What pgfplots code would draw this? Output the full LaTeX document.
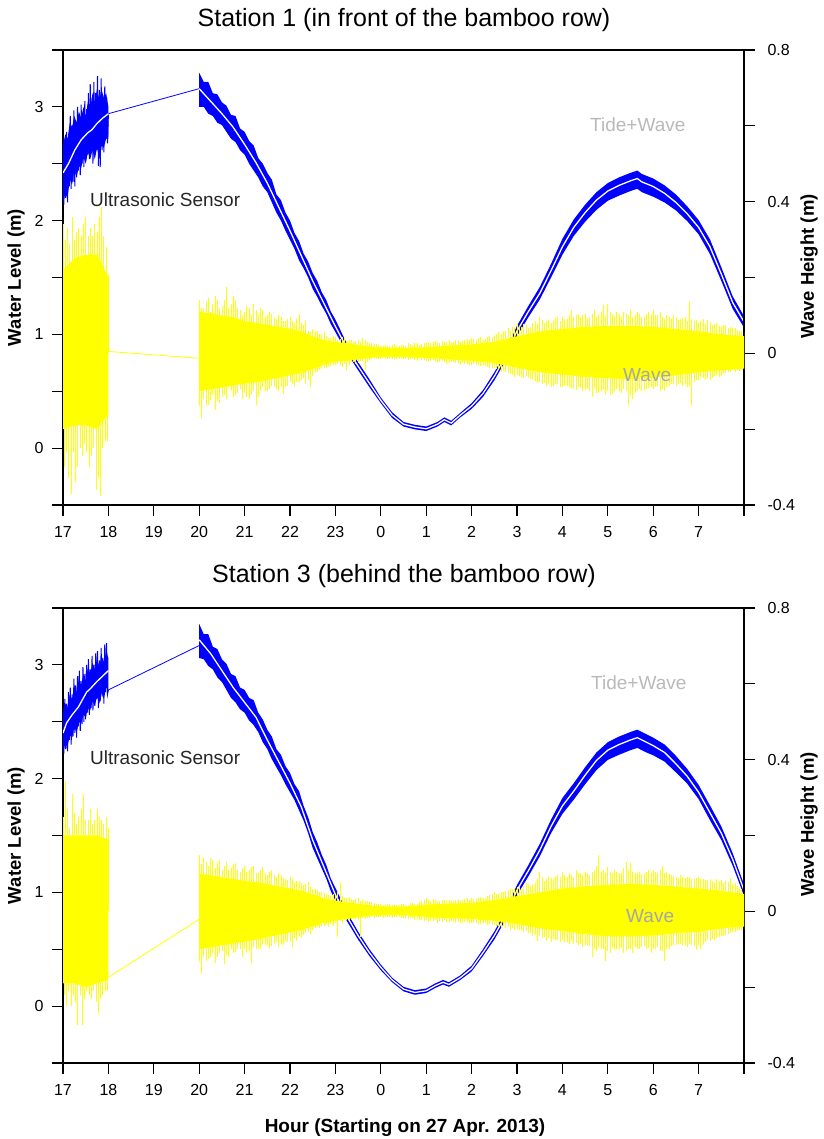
\documentclass[border=0pt]{standalone}
\usepackage{fontspec}
\setmainfont{Liberation Sans}
\usepackage{pgfplots}
\pgfplotsset{compat=1.18}
\definecolor{lgray}{RGB}{185,185,185}
\definecolor{wgray}{RGB}{165,165,178}
\definecolor{yel}{RGB}{255,255,0}
\pgfplotsset{
  panel/.style={scale only axis, width=681pt, height=455pt, anchor=south west,
    xmin=17, xmax=32, clip=true,
    tick align=outside, major tick length=11pt, minor tick length=11pt,
    every tick/.style={black, line width=1.1pt},
    axis line style={line width=1.1pt},
    tick label style={font=\fontsize{16}{19}\selectfont},
    /pgf/number format/assume math mode=true},
  leftax/.style={panel, ymin=-0.5, ymax=3.5, ytick={0,1,2,3},
    minor ytick={-0.5,0.5,1.5,2.5,3.5},
    xtick={17,18,...,32},
    xticklabels={17,18,19,20,21,22,23,0,1,2,3,4,5,6,7,{}},
    xticklabel style={yshift=-7pt},
    yticklabel style={xshift=-5pt},
    tick pos=left},
  rightax/.style={panel, ymin=-0.4, ymax=0.8, ytick={-0.4,0,0.4,0.8},
    minor ytick={-0.2,0.2,0.6},
    yticklabel style={xshift=9pt},
    axis y line*=right, axis x line=none},
  spikes/.style={ycomb, yel, mark=none, line width=0.8pt},
}
\begin{document}
\begin{tikzpicture}
\useasboundingbox (0pt,0pt) rectangle (823pt,1139pt);

% ================= PANEL 1 : left axis (Tide+Wave) =================
\begin{axis}[leftax, at={(63pt,634pt)}]
% core of the raw signal 17-18
\addplot[fill=blue, draw=none] coordinates {(17.00,2.66)(17.05,2.76)(17.10,2.72)(17.15,2.86)(17.20,2.82)(17.25,2.92)(17.30,2.86)(17.35,2.96)(17.40,2.90)(17.45,3.00)(17.50,2.92)(17.55,3.05)(17.60,2.98)(17.65,3.12)(17.70,3.04)(17.75,3.16)(17.80,3.06)(17.85,3.15)(17.90,3.08)(17.95,3.12)(18.00,3.00)
(18.00,2.72)(17.95,2.72)(17.90,2.64)(17.85,2.66)(17.80,2.54)(17.75,2.64)(17.70,2.54)(17.65,2.62)(17.60,2.54)(17.55,2.60)(17.50,2.50)(17.45,2.56)(17.40,2.46)(17.35,2.48)(17.30,2.38)(17.25,2.44)(17.20,2.32)(17.15,2.36)(17.10,2.20)(17.05,2.24)(17.00,2.16)} -- cycle;
% raw signal 17-18 (spikes)
\addplot[blue, line width=1pt] coordinates {(17.00,2.72)(17.02,2.14)(17.04,2.66)(17.06,2.20)(17.08,2.78)(17.10,2.16)(17.12,2.70)(17.14,2.30)(17.16,2.92)(17.18,2.28)(17.20,2.84)(17.22,2.34)(17.24,2.97)(17.26,2.30)(17.28,2.88)(17.30,2.38)(17.32,3.00)(17.34,2.44)(17.36,2.90)(17.38,2.40)(17.40,3.02)(17.42,2.50)(17.44,2.95)(17.46,2.47)(17.48,3.05)(17.50,2.52)(17.52,2.98)(17.54,2.58)(17.56,3.12)(17.58,2.54)(17.60,3.20)(17.62,2.60)(17.64,3.08)(17.66,2.50)(17.68,3.22)(17.70,2.58)(17.72,3.12)(17.74,2.62)(17.76,3.27)(17.78,2.48)(17.80,3.15)(17.82,2.47)(17.84,3.25)(17.86,2.62)(17.88,3.10)(17.90,2.60)(17.92,3.18)(17.94,2.72)(17.96,3.08)(17.98,2.68)(18.00,2.94)};
% band 20-32
\addplot[fill=blue, draw=none] coordinates {(20.0,3.30)(20.1,3.22)(20.2,3.22)(20.3,3.12)(20.4,3.11)(20.5,3.04)(20.6,3.01)(20.7,2.93)(20.8,2.92)(20.9,2.81)(21.0,2.78)(21.1,2.70)(21.2,2.66)(21.3,2.55)(21.4,2.50)(21.5,2.42)(21.6,2.36)(21.7,2.23)(21.8,2.18)(21.9,2.07)(22.0,2.00)(22.1,1.89)(22.2,1.82)(22.3,1.71)(22.4,1.64)(22.5,1.54)(22.6,1.47)(22.7,1.37)(22.8,1.30)(22.9,1.20)(23.0,1.13)(23.25,0.92)(23.5,0.755)(23.75,0.605)(24.0,0.445)(24.25,0.315)(24.5,0.23)(24.75,0.205)(25.0,0.19)(25.25,0.23)(25.4,0.27)(25.55,0.24)(25.75,0.31)(26.0,0.395)(26.25,0.51)(26.5,0.665)(26.75,0.85)(27.0,1.075)(27.25,1.25)(27.5,1.415)(27.75,1.62)(28.0,1.84)(28.25,2.01)(28.5,2.14)(28.75,2.25)(29.0,2.33)(29.25,2.38)(29.5,2.42)(29.65,2.44)(29.75,2.41)(30.0,2.37)(30.25,2.31)(30.5,2.23)(30.75,2.125)(31.0,2.005)(31.25,1.835)(31.5,1.59)(31.75,1.335)(32.0,1.16)
(32.0,1.06)(31.75,1.225)(31.5,1.47)(31.25,1.705)(31.0,1.88)(30.75,1.995)(30.5,2.09)(30.25,2.16)(30.0,2.21)(29.75,2.25)(29.65,2.28)(29.5,2.26)(29.25,2.22)(29.0,2.175)(28.75,2.095)(28.5,1.99)(28.25,1.865)(28.0,1.70)(27.75,1.50)(27.5,1.305)(27.25,1.15)(27.0,0.985)(26.75,0.77)(26.5,0.595)(26.25,0.45)(26.0,0.345)(25.75,0.27)(25.55,0.20)(25.4,0.23)(25.25,0.19)(25.0,0.15)(24.75,0.165)(24.5,0.19)(24.25,0.265)(24.0,0.395)(23.75,0.535)(23.5,0.685)(23.25,0.84)(23.0,1.02)(22.9,1.09)(22.8,1.18)(22.7,1.25)(22.6,1.33)(22.5,1.40)(22.4,1.50)(22.3,1.58)(22.2,1.65)(22.1,1.75)(22.0,1.83)(21.9,1.91)(21.8,2.00)(21.7,2.07)(21.6,2.16)(21.5,2.25)(21.4,2.30)(21.3,2.38)(21.2,2.44)(21.1,2.50)(21.0,2.58)(20.9,2.62)(20.8,2.69)(20.7,2.72)(20.6,2.78)(20.5,2.84)(20.4,2.86)(20.3,2.92)(20.2,2.94)(20.1,3.00)(20.0,3.00)} -- cycle;
% connector
\addplot[blue, line width=0.8pt] coordinates {(18.0,2.94)(20.0,3.16)};
% tide (white centre line)
\addplot[white, line width=1.3pt] coordinates {(17.0,2.42)(17.12,2.50)(17.26,2.62)(17.4,2.71)(17.54,2.77)(17.64,2.80)(17.74,2.85)(17.87,2.90)(18.0,2.94)};
\addplot[white, line width=1.3pt] coordinates {(20.0,3.16)(20.25,3.05)(20.5,2.94)(20.75,2.82)(21.0,2.67)(21.25,2.51)(21.5,2.33)(21.75,2.12)(22.0,1.91)(22.25,1.69)(22.5,1.47)(22.75,1.27)(23.0,1.07)(23.25,0.88)(23.5,0.72)(23.75,0.57)(24.0,0.42)(24.25,0.29)(24.5,0.21)(24.75,0.185)(25.0,0.17)(25.25,0.21)(25.4,0.25)(25.55,0.22)(25.75,0.29)(26.0,0.37)(26.25,0.48)(26.5,0.63)(26.75,0.81)(27.0,1.03)(27.25,1.20)(27.5,1.36)(27.75,1.56)(28.0,1.77)(28.25,1.94)(28.5,2.07)(28.75,2.18)(29.0,2.26)(29.25,2.31)(29.5,2.35)(29.65,2.37)(29.75,2.34)(30.0,2.30)(30.25,2.24)(30.5,2.16)(30.75,2.06)(31.0,1.94)(31.25,1.77)(31.5,1.53)(31.75,1.28)(32.0,1.11)};
\end{axis}

% ================= PANEL 1 : right axis (Wave) =================
\begin{axis}[rightax, at={(63pt,634pt)}]
\addplot[fill=yel, draw=none] coordinates {(17.0,0.22)(17.25,0.25)(17.5,0.26)(17.75,0.26)(18.0,0.20)(18.0,-0.16)(17.75,-0.20)(17.5,-0.19)(17.25,-0.19)(17.0,-0.20)} -- cycle;
\addplot[spikes] coordinates {(17.00,0.34)(17.05,0.30)(17.10,0.33)(17.15,0.29)(17.20,0.36)(17.25,0.30)(17.30,0.32)(17.35,0.33)(17.40,0.31)(17.45,0.34)(17.50,0.36)(17.55,0.31)(17.60,0.33)(17.65,0.31)(17.70,0.34)(17.75,0.32)(17.80,0.36)(17.85,0.385)(17.90,0.31)(17.95,0.28)(18.00,0.21)
(17.025,-0.30)(17.075,-0.26)(17.125,-0.33)(17.175,-0.37)(17.225,-0.26)(17.275,-0.34)(17.325,-0.30)(17.375,-0.25)(17.425,-0.27)(17.475,-0.24)(17.525,-0.26)(17.575,-0.30)(17.625,-0.27)(17.675,-0.25)(17.725,-0.36)(17.775,-0.33)(17.825,-0.375)(17.875,-0.25)(17.925,-0.23)(17.975,-0.23)};
\addplot[yel, line width=0.8pt] coordinates {(18.0,0.005)(20.0,-0.013)};
\addplot[fill=yel, draw=none] coordinates {(20.0,0.11)(20.25,0.105)(20.5,0.10)(20.75,0.095)(21.0,0.085)(21.25,0.08)(21.5,0.075)(21.75,0.07)(22.0,0.065)(22.25,0.058)(22.5,0.045)(22.75,0.035)(23.0,0.03)(23.25,0.027)(23.5,0.022)(23.75,0.018)(24.0,0.015)(24.5,0.014)(25.0,0.016)(25.5,0.02)(26.0,0.024)(26.5,0.03)(27.0,0.045)(27.5,0.058)(28.0,0.064)(28.5,0.07)(29.0,0.072)(29.5,0.072)(30.0,0.07)(30.5,0.064)(31.0,0.058)(31.5,0.05)(32.0,0.045)
(32.0,-0.04)(31.5,-0.045)(31.0,-0.05)(30.5,-0.058)(30.0,-0.064)(29.5,-0.068)(29.0,-0.066)(28.5,-0.062)(28.0,-0.056)(27.5,-0.05)(27.0,-0.038)(26.5,-0.026)(26.0,-0.02)(25.5,-0.016)(25.0,-0.012)(24.5,-0.01)(24.0,-0.01)(23.75,-0.012)(23.5,-0.016)(23.25,-0.02)(23.0,-0.022)(22.75,-0.03)(22.5,-0.042)(22.25,-0.052)(22.0,-0.058)(21.75,-0.065)(21.5,-0.07)(21.25,-0.077)(21.0,-0.08)(20.75,-0.085)(20.5,-0.09)(20.25,-0.095)(20.0,-0.10)} -- cycle;
% upward spikes
\addplot[spikes] coordinates {
(20.0,0.14)(20.1,0.12)(20.2,0.145)(20.3,0.13)(20.4,0.14)(20.5,0.125)(20.6,0.175)(20.7,0.13)(20.8,0.14)(20.9,0.115)
(21.0,0.11)(21.1,0.12)(21.2,0.13)(21.3,0.105)(21.4,0.115)(21.5,0.10)(21.6,0.105)(21.7,0.09)(21.8,0.096)(21.9,0.085)
(22.0,0.096)(22.1,0.08)(22.2,0.105)(22.3,0.075)(22.4,0.06)(22.5,0.065)(22.6,0.058)(22.7,0.05)(22.8,0.045)(22.9,0.04)
(23.0,0.043)(23.1,0.038)(23.2,0.04)(23.3,0.034)(23.4,0.03)(23.5,0.036)(23.6,0.04)(23.7,0.03)(23.8,0.027)(23.9,0.024)
(24.0,0.02)(24.1,0.022)(24.2,0.02)(24.3,0.024)(24.4,0.02)(24.5,0.022)(24.6,0.026)(24.7,0.022)(24.8,0.027)(24.9,0.024)
(25.0,0.03)(25.1,0.026)(25.2,0.032)(25.3,0.028)(25.4,0.03)(25.5,0.034)(25.6,0.03)(25.7,0.036)(25.8,0.032)(25.9,0.038)
(26.0,0.04)(26.1,0.036)(26.2,0.042)(26.3,0.038)(26.4,0.046)(26.5,0.048)(26.6,0.055)(26.7,0.06)(26.8,0.066)(26.9,0.07)
(27.0,0.08)(27.1,0.07)(27.2,0.075)(27.3,0.07)(27.4,0.085)(27.5,0.096)(27.6,0.08)(27.7,0.09)(27.8,0.085)(27.9,0.095)
(28.0,0.096)(28.1,0.09)(28.2,0.113)(28.3,0.10)(28.4,0.095)(28.5,0.105)(28.6,0.095)(28.7,0.113)(28.8,0.10)(28.9,0.127)
(29.0,0.13)(29.1,0.105)(29.2,0.11)(29.3,0.096)(29.4,0.105)(29.5,0.113)(29.6,0.10)(29.7,0.105)(29.8,0.095)(29.9,0.11)
(30.0,0.113)(30.1,0.10)(30.2,0.096)(30.3,0.10)(30.4,0.09)(30.5,0.096)(30.6,0.09)(30.7,0.095)(30.8,0.135)(30.9,0.085)
(31.0,0.08)(31.1,0.09)(31.2,0.088)(31.3,0.075)(31.4,0.08)(31.5,0.07)(31.6,0.075)(31.7,0.07)(31.8,0.068)(31.9,0.06)(32.0,0.055)
(20.05,0.12)(20.15,0.135)(20.25,0.11)(20.35,0.15)(20.45,0.12)(20.55,0.14)(20.65,0.12)(20.75,0.15)(20.85,0.12)(20.95,0.10)
(21.05,0.125)(21.15,0.10)(21.25,0.115)(21.35,0.12)(21.45,0.095)(21.55,0.11)(21.65,0.095)(21.75,0.10)(21.85,0.085)(21.95,0.09)
(22.05,0.085)(22.15,0.09)(22.25,0.08)(22.35,0.085)(22.45,0.055)(22.55,0.06)(22.65,0.05)(22.75,0.055)(22.85,0.04)(22.95,0.045)
(23.05,0.036)(23.15,0.042)(23.25,0.032)(23.35,0.036)(23.45,0.033)(23.55,0.03)(23.65,0.034)(23.75,0.026)(23.85,0.025)(23.95,0.022)
(24.05,0.018)(24.15,0.02)(24.25,0.023)(24.35,0.019)(24.45,0.023)(24.55,0.02)(24.65,0.024)(24.75,0.026)(24.85,0.022)(24.95,0.028)
(25.05,0.026)(25.15,0.03)(25.25,0.027)(25.35,0.032)(25.45,0.029)(25.55,0.031)(25.65,0.034)(25.75,0.03)(25.85,0.036)(25.95,0.034)
(26.05,0.037)(26.15,0.04)(26.25,0.036)(26.35,0.043)(26.45,0.042)(26.55,0.05)(26.65,0.052)(26.75,0.058)(26.85,0.06)(26.95,0.068)
(27.05,0.072)(27.15,0.078)(27.25,0.068)(27.35,0.08)(27.45,0.078)(27.55,0.088)(27.65,0.085)(27.75,0.08)(27.85,0.092)(27.95,0.085)
(28.05,0.09)(28.15,0.10)(28.25,0.095)(28.35,0.105)(28.45,0.10)(28.55,0.09)(28.65,0.105)(28.75,0.095)(28.85,0.108)(28.95,0.10)
(29.05,0.11)(29.15,0.098)(29.25,0.105)(29.35,0.11)(29.45,0.10)(29.55,0.095)(29.65,0.11)(29.75,0.095)(29.85,0.105)(29.95,0.10)
(30.05,0.10)(30.15,0.108)(30.25,0.09)(30.35,0.095)(30.45,0.10)(30.55,0.088)(30.65,0.094)(30.75,0.085)(30.85,0.09)(30.95,0.088)
(31.05,0.085)(31.15,0.078)(31.25,0.082)(31.35,0.078)(31.45,0.072)(31.55,0.075)(31.65,0.068)(31.75,0.066)(31.85,0.062)(31.95,0.058)};
% downward spikes
\addplot[spikes] coordinates {
(20.05,-0.17)(20.15,-0.14)(20.25,-0.124)(20.35,-0.15)(20.45,-0.13)(20.55,-0.11)(20.65,-0.09)(20.75,-0.116)(20.85,-0.105)(20.95,-0.12)
(21.05,-0.116)(21.15,-0.11)(21.25,-0.137)(21.35,-0.10)(21.45,-0.10)(21.55,-0.095)(21.65,-0.09)(21.75,-0.10)(21.85,-0.106)(21.95,-0.085)
(22.05,-0.08)(22.15,-0.075)(22.25,-0.07)(22.35,-0.08)(22.45,-0.09)(22.55,-0.05)(22.65,-0.045)(22.75,-0.04)(22.85,-0.036)(22.95,-0.03)
(23.05,-0.027)(23.15,-0.035)(23.25,-0.045)(23.35,-0.024)(23.45,-0.028)(23.55,-0.02)(23.65,-0.045)(23.75,-0.018)(23.85,-0.013)(23.95,-0.015)
(24.05,-0.013)(24.15,-0.016)(24.25,-0.014)(24.35,-0.016)(24.45,-0.013)(24.55,-0.016)(24.65,-0.015)(24.75,-0.018)(24.85,-0.016)(24.95,-0.018)
(25.05,-0.02)(25.15,-0.018)(25.25,-0.022)(25.35,-0.02)(25.45,-0.027)(25.55,-0.024)(25.65,-0.026)(25.75,-0.03)(25.85,-0.027)(25.95,-0.03)
(26.05,-0.028)(26.15,-0.032)(26.25,-0.03)(26.35,-0.036)(26.45,-0.04)(26.55,-0.042)(26.65,-0.048)(26.75,-0.05)(26.85,-0.055)(26.95,-0.062)
(27.05,-0.06)(27.15,-0.066)(27.25,-0.066)(27.35,-0.07)(27.45,-0.078)(27.55,-0.08)(27.65,-0.085)(27.75,-0.09)(27.85,-0.082)(27.95,-0.09)
(28.05,-0.085)(28.15,-0.09)(28.25,-0.095)(28.35,-0.09)(28.45,-0.10)(28.55,-0.095)(28.65,-0.116)(28.75,-0.105)(28.85,-0.10)(28.95,-0.106)
(29.05,-0.11)(29.15,-0.10)(29.25,-0.10)(29.35,-0.095)(29.45,-0.137)(29.55,-0.12)(29.65,-0.10)(29.75,-0.10)(29.85,-0.095)(29.95,-0.09)
(30.05,-0.09)(30.15,-0.10)(30.25,-0.10)(30.35,-0.085)(30.45,-0.08)(30.55,-0.08)(30.65,-0.085)(30.75,-0.09)(30.85,-0.14)(30.95,-0.07)
(31.05,-0.062)(31.15,-0.07)(31.25,-0.07)(31.35,-0.06)(31.45,-0.062)(31.55,-0.055)(31.65,-0.05)(31.75,-0.045)(31.85,-0.045)(31.95,-0.045)
(20.0,-0.14)(20.1,-0.12)(20.2,-0.135)(20.3,-0.11)(20.4,-0.125)(20.5,-0.115)(20.6,-0.12)(20.7,-0.10)(20.8,-0.11)(20.9,-0.095)
(21.0,-0.105)(21.1,-0.12)(21.2,-0.10)(21.3,-0.115)(21.4,-0.09)(21.5,-0.10)(21.6,-0.085)(21.7,-0.095)(21.8,-0.088)(21.9,-0.09)
(22.0,-0.075)(22.1,-0.085)(22.2,-0.075)(22.3,-0.065)(22.4,-0.07)(22.5,-0.06)(22.6,-0.05)(22.7,-0.042)(22.8,-0.04)(22.9,-0.034)
(23.0,-0.032)(23.1,-0.03)(23.2,-0.028)(23.3,-0.03)(23.4,-0.022)(23.5,-0.026)(23.6,-0.02)(23.7,-0.022)(23.8,-0.016)(23.9,-0.016)
(24.0,-0.014)(24.1,-0.015)(24.2,-0.013)(24.3,-0.015)(24.4,-0.016)(24.5,-0.014)(24.6,-0.017)(24.7,-0.016)(24.8,-0.02)(24.9,-0.017)
(25.0,-0.019)(25.1,-0.021)(25.2,-0.019)(25.3,-0.023)(25.4,-0.022)(25.5,-0.026)(25.6,-0.023)(25.7,-0.028)(25.8,-0.025)(25.9,-0.029)
(26.0,-0.03)(26.1,-0.03)(26.2,-0.034)(26.3,-0.033)(26.4,-0.038)(26.5,-0.04)(26.6,-0.045)(26.7,-0.046)(26.8,-0.052)(26.9,-0.056)
(27.0,-0.058)(27.1,-0.063)(27.2,-0.06)(27.3,-0.068)(27.4,-0.072)(27.5,-0.075)(27.6,-0.078)(27.7,-0.082)(27.8,-0.086)(27.9,-0.08)
(28.0,-0.09)(28.1,-0.087)(28.2,-0.092)(28.3,-0.098)(28.4,-0.092)(28.5,-0.098)(28.6,-0.10)(28.7,-0.095)(28.8,-0.105)(28.9,-0.098)
(29.0,-0.10)(29.1,-0.108)(29.2,-0.095)(29.3,-0.105)(29.4,-0.10)(29.5,-0.11)(29.6,-0.105)(29.7,-0.095)(29.8,-0.10)(29.9,-0.092)
(30.0,-0.095)(30.1,-0.088)(30.2,-0.095)(30.3,-0.09)(30.4,-0.082)(30.5,-0.085)(30.6,-0.078)(30.7,-0.082)(30.8,-0.085)(30.9,-0.075)
(31.0,-0.07)(31.1,-0.066)(31.2,-0.064)(31.3,-0.066)(31.4,-0.058)(31.5,-0.06)(31.6,-0.052)(31.7,-0.05)(31.8,-0.048)(31.9,-0.046)(32.0,-0.044)};
\end{axis}

% ================= PANEL 2 : left axis (Tide+Wave) =================
\begin{axis}[leftax, at={(63pt,76pt)}]
\addplot[fill=blue, draw=none] coordinates {(17.00,2.58)(17.05,2.66)(17.10,2.62)(17.15,2.74)(17.20,2.70)(17.25,2.82)(17.30,2.76)(17.35,2.88)(17.40,2.82)(17.45,2.92)(17.50,2.86)(17.55,2.98)(17.60,2.92)(17.65,3.02)(17.70,2.96)(17.75,3.06)(17.80,2.98)(17.85,3.08)(17.90,3.02)(17.95,3.12)(18.00,3.06)
(18.00,2.78)(17.95,2.80)(17.90,2.70)(17.85,2.76)(17.80,2.66)(17.75,2.72)(17.70,2.64)(17.65,2.68)(17.60,2.60)(17.55,2.62)(17.50,2.54)(17.45,2.56)(17.40,2.48)(17.35,2.50)(17.30,2.40)(17.25,2.46)(17.20,2.36)(17.15,2.38)(17.10,2.28)(17.05,2.30)(17.00,2.26)} -- cycle;
\addplot[blue, line width=1pt] coordinates {(17.00,2.62)(17.02,2.22)(17.04,2.70)(17.06,2.26)(17.08,2.66)(17.10,2.24)(17.12,2.76)(17.14,2.34)(17.16,2.80)(17.18,2.30)(17.20,2.74)(17.22,2.37)(17.24,2.88)(17.26,2.40)(17.28,2.82)(17.30,2.36)(17.32,2.90)(17.34,2.46)(17.36,2.95)(17.38,2.42)(17.40,2.86)(17.42,2.48)(17.44,2.98)(17.46,2.50)(17.48,2.92)(17.50,2.52)(17.52,3.00)(17.54,2.58)(17.56,3.05)(17.58,2.56)(17.60,2.96)(17.62,2.62)(17.64,3.08)(17.66,2.60)(17.68,3.00)(17.70,2.64)(17.72,3.10)(17.74,2.70)(17.76,3.12)(17.78,2.62)(17.80,3.04)(17.82,2.68)(17.84,3.15)(17.86,2.72)(17.88,3.06)(17.90,2.66)(17.92,3.18)(17.94,2.76)(17.96,3.19)(17.98,2.74)(18.00,2.78)};
\addplot[fill=blue, draw=none] coordinates {(20.0,3.36)(20.1,3.27)(20.2,3.27)(20.3,3.16)(20.4,3.14)(20.5,3.05)(20.6,3.01)(20.7,2.92)(20.8,2.90)(20.9,2.80)(21.0,2.78)(21.1,2.71)(21.2,2.69)(21.3,2.58)(21.4,2.52)(21.5,2.43)(21.6,2.37)(21.7,2.26)(21.8,2.21)(21.9,2.11)(22.0,2.05)(22.1,1.95)(22.2,1.89)(22.3,1.76)(22.4,1.66)(22.5,1.53)(22.6,1.44)(22.7,1.33)(22.8,1.24)(22.9,1.12)(23.0,1.04)(23.25,0.83)(23.5,0.655)(23.75,0.50)(24.0,0.365)(24.25,0.25)(24.5,0.17)(24.75,0.14)(25.0,0.155)(25.2,0.20)(25.37,0.23)(25.5,0.21)(25.75,0.27)(26.0,0.355)(26.25,0.50)(26.5,0.655)(26.75,0.84)(27.0,1.065)(27.25,1.24)(27.5,1.425)(27.75,1.64)(28.0,1.83)(28.25,1.96)(28.5,2.10)(28.75,2.23)(29.0,2.32)(29.25,2.37)(29.5,2.41)(29.65,2.43)(29.85,2.39)(30.0,2.36)(30.25,2.30)(30.5,2.20)(30.75,2.085)(31.0,1.945)(31.25,1.765)(31.5,1.58)(31.75,1.345)(32.0,1.07)
(32.0,0.97)(31.75,1.235)(31.5,1.46)(31.25,1.635)(31.0,1.82)(30.75,1.955)(30.5,2.055)(30.25,2.15)(30.0,2.205)(29.85,2.23)(29.65,2.27)(29.5,2.25)(29.25,2.21)(29.0,2.165)(28.75,2.075)(28.5,1.95)(28.25,1.815)(28.0,1.69)(27.75,1.52)(27.5,1.315)(27.25,1.14)(27.0,0.975)(26.75,0.76)(26.5,0.585)(26.25,0.44)(26.0,0.305)(25.75,0.23)(25.5,0.17)(25.37,0.19)(25.2,0.16)(25.0,0.115)(24.75,0.10)(24.5,0.13)(24.25,0.21)(24.0,0.315)(23.75,0.44)(23.5,0.585)(23.25,0.75)(23.0,0.93)(22.9,1.01)(22.8,1.12)(22.7,1.21)(22.6,1.30)(22.5,1.39)(22.4,1.52)(22.3,1.63)(22.2,1.72)(22.1,1.81)(22.0,1.88)(21.9,1.95)(21.8,2.03)(21.7,2.10)(21.6,2.17)(21.5,2.26)(21.4,2.32)(21.3,2.41)(21.2,2.47)(21.1,2.51)(21.0,2.58)(20.9,2.61)(20.8,2.67)(20.7,2.71)(20.6,2.78)(20.5,2.85)(20.4,2.89)(20.3,2.96)(20.2,2.99)(20.1,3.05)(20.0,3.06)} -- cycle;
\addplot[blue, line width=0.8pt] coordinates {(18.0,2.78)(20.0,3.17)};
\addplot[white, line width=1.3pt] coordinates {(17.0,2.40)(17.08,2.49)(17.2,2.56)(17.34,2.63)(17.52,2.76)(17.6,2.79)(17.74,2.85)(17.87,2.90)(18.0,2.95)};
\addplot[white, line width=1.3pt] coordinates {(20.0,3.22)(20.25,3.10)(20.5,2.95)(20.75,2.80)(21.0,2.67)(21.25,2.54)(21.5,2.34)(21.75,2.15)(22.0,1.96)(22.25,1.75)(22.5,1.46)(22.75,1.22)(23.0,0.98)(23.25,0.79)(23.5,0.62)(23.75,0.47)(24.0,0.34)(24.25,0.23)(24.5,0.15)(24.75,0.12)(25.0,0.135)(25.2,0.18)(25.37,0.21)(25.5,0.19)(25.75,0.25)(26.0,0.33)(26.25,0.47)(26.5,0.62)(26.75,0.80)(27.0,1.02)(27.25,1.19)(27.5,1.37)(27.75,1.58)(28.0,1.76)(28.25,1.89)(28.5,2.03)(28.75,2.16)(29.0,2.25)(29.25,2.30)(29.5,2.34)(29.65,2.36)(29.85,2.32)(30.0,2.29)(30.25,2.23)(30.5,2.13)(30.75,2.02)(31.0,1.88)(31.25,1.70)(31.5,1.52)(31.75,1.29)(32.0,1.02)};
\end{axis}

% ================= PANEL 2 : right axis (Wave) =================
\begin{axis}[rightax, at={(63pt,76pt)}]
\addplot[fill=yel, draw=none] coordinates {(17.0,0.20)(17.25,0.20)(17.5,0.20)(17.75,0.20)(18.0,0.19)(18.0,-0.18)(17.75,-0.19)(17.5,-0.20)(17.25,-0.19)(17.0,-0.19)} -- cycle;
\addplot[spikes] coordinates {(17.00,0.25)(17.05,0.34)(17.10,0.27)(17.15,0.22)(17.20,0.31)(17.25,0.26)(17.30,0.23)(17.35,0.25)(17.40,0.27)(17.45,0.31)(17.50,0.24)(17.55,0.24)(17.60,0.27)(17.65,0.23)(17.70,0.24)(17.75,0.27)(17.80,0.25)(17.85,0.24)(17.90,0.23)(17.95,0.25)(18.00,0.22)
(17.025,-0.22)(17.075,-0.25)(17.125,-0.21)(17.175,-0.25)(17.225,-0.22)(17.275,-0.24)(17.325,-0.30)(17.375,-0.22)(17.425,-0.30)(17.475,-0.23)(17.525,-0.21)(17.575,-0.22)(17.625,-0.23)(17.675,-0.21)(17.725,-0.24)(17.775,-0.27)(17.825,-0.23)(17.875,-0.22)(17.925,-0.21)(17.975,-0.21)};
\addplot[yel, line width=0.8pt] coordinates {(18.0,-0.174)(20.0,-0.021)};
\addplot[fill=yel, draw=none] coordinates {(20.0,0.10)(20.25,0.095)(20.5,0.09)(20.75,0.085)(21.0,0.08)(21.25,0.077)(21.5,0.072)(21.75,0.066)(22.0,0.06)(22.25,0.054)(22.5,0.045)(22.75,0.034)(23.0,0.028)(23.25,0.024)(23.5,0.02)(23.75,0.016)(24.0,0.013)(24.5,0.012)(25.0,0.018)(25.5,0.02)(26.0,0.022)(26.5,0.03)(27.0,0.04)(27.5,0.05)(28.0,0.06)(28.5,0.066)(29.0,0.07)(29.5,0.072)(30.0,0.07)(30.5,0.065)(31.0,0.06)(31.5,0.054)(32.0,0.045)
(32.0,-0.04)(31.5,-0.045)(31.0,-0.054)(30.5,-0.058)(30.0,-0.064)(29.5,-0.066)(29.0,-0.066)(28.5,-0.06)(28.0,-0.052)(27.5,-0.045)(27.0,-0.033)(26.5,-0.025)(26.0,-0.02)(25.5,-0.018)(25.0,-0.015)(24.5,-0.01)(24.0,-0.01)(23.75,-0.012)(23.5,-0.016)(23.25,-0.02)(23.0,-0.025)(22.75,-0.03)(22.5,-0.04)(22.25,-0.05)(22.0,-0.056)(21.75,-0.062)(21.5,-0.068)(21.25,-0.075)(21.0,-0.08)(20.75,-0.085)(20.5,-0.09)(20.25,-0.095)(20.0,-0.10)} -- cycle;
\addplot[spikes] coordinates {
(20.0,0.148)(20.1,0.143)(20.2,0.12)(20.3,0.135)(20.4,0.127)(20.5,0.11)(20.6,0.13)(20.7,0.115)(20.8,0.127)(20.9,0.105)
(21.0,0.12)(21.1,0.11)(21.2,0.12)(21.3,0.10)(21.4,0.117)(21.5,0.095)(21.6,0.108)(21.7,0.09)(21.8,0.095)(21.9,0.085)
(22.0,0.09)(22.1,0.078)(22.2,0.08)(22.3,0.07)(22.4,0.077)(22.5,0.06)(22.6,0.055)(22.7,0.05)(22.8,0.047)(22.9,0.04)
(23.0,0.042)(23.1,0.077)(23.2,0.036)(23.3,0.037)(23.4,0.03)(23.5,0.035)(23.6,0.03)(23.7,0.026)(23.8,0.024)(23.9,0.02)
(24.0,0.02)(24.1,0.017)(24.2,0.02)(24.3,0.016)(24.4,0.016)(24.5,0.02)(24.6,0.018)(24.7,0.022)(24.8,0.02)(24.9,0.026)
(25.0,0.034)(25.1,0.028)(25.2,0.03)(25.3,0.026)(25.4,0.03)(25.5,0.03)(25.6,0.026)(25.7,0.032)(25.8,0.03)(25.9,0.034)
(26.0,0.034)(26.1,0.032)(26.2,0.038)(26.3,0.036)(26.4,0.044)(26.5,0.05)(26.6,0.045)(26.7,0.052)(26.8,0.055)(26.9,0.06)
(27.0,0.063)(27.1,0.06)(27.2,0.074)(27.3,0.068)(27.4,0.074)(27.5,0.105)(27.6,0.08)(27.7,0.09)(27.8,0.085)(27.9,0.095)
(28.0,0.103)(28.1,0.09)(28.2,0.095)(28.3,0.11)(28.4,0.10)(28.5,0.103)(28.6,0.095)(28.7,0.108)(28.8,0.148)(28.9,0.11)
(29.0,0.117)(29.1,0.10)(29.2,0.105)(29.3,0.10)(29.4,0.13)(29.5,0.127)(29.6,0.10)(29.7,0.105)(29.8,0.10)(29.9,0.108)
(30.0,0.108)(30.1,0.10)(30.2,0.12)(30.3,0.105)(30.4,0.095)(30.5,0.09)(30.6,0.095)(30.7,0.087)(30.8,0.09)(30.9,0.085)
(31.0,0.09)(31.1,0.085)(31.2,0.082)(31.3,0.08)(31.4,0.085)(31.5,0.082)(31.6,0.08)(31.7,0.087)(31.8,0.075)(31.9,0.065)(32.0,0.05)
(20.05,0.125)(20.15,0.13)(20.25,0.14)(20.35,0.115)(20.45,0.135)(20.55,0.12)(20.65,0.11)(20.75,0.125)(20.85,0.11)(20.95,0.115)
(21.05,0.105)(21.15,0.118)(21.25,0.10)(21.35,0.11)(21.45,0.10)(21.55,0.105)(21.65,0.095)(21.75,0.10)(21.85,0.088)(21.95,0.082)
(22.05,0.085)(22.15,0.08)(22.25,0.075)(22.35,0.072)(22.45,0.065)(22.55,0.058)(22.65,0.052)(22.75,0.048)(22.85,0.044)(22.95,0.046)
(23.05,0.05)(23.15,0.04)(23.25,0.034)(23.35,0.032)(23.45,0.033)(23.55,0.028)(23.65,0.027)(23.75,0.024)(23.85,0.021)(23.95,0.019)
(24.05,0.018)(24.15,0.019)(24.25,0.016)(24.35,0.018)(24.45,0.019)(24.55,0.017)(24.65,0.021)(24.75,0.019)(24.85,0.024)(24.95,0.03)
(25.05,0.03)(25.15,0.032)(25.25,0.027)(25.35,0.029)(25.45,0.027)(25.55,0.028)(25.65,0.03)(25.75,0.028)(25.85,0.033)(25.95,0.031)
(26.05,0.033)(26.15,0.035)(26.25,0.034)(26.35,0.04)(26.45,0.046)(26.55,0.047)(26.65,0.05)(26.75,0.053)(26.85,0.058)(26.95,0.062)
(27.05,0.065)(27.15,0.068)(27.25,0.07)(27.35,0.072)(27.45,0.085)(27.55,0.09)(27.65,0.085)(27.75,0.088)(27.85,0.092)(27.95,0.09)
(28.05,0.095)(28.15,0.10)(28.25,0.09)(28.35,0.10)(28.45,0.095)(28.55,0.10)(28.65,0.105)(28.75,0.12)(28.85,0.105)(28.95,0.10)
(29.05,0.105)(29.15,0.11)(29.25,0.10)(29.35,0.115)(29.45,0.11)(29.55,0.105)(29.65,0.10)(29.75,0.098)(29.85,0.105)(29.95,0.10)
(30.05,0.105)(30.15,0.11)(30.25,0.10)(30.35,0.098)(30.45,0.092)(30.55,0.088)(30.65,0.09)(30.75,0.09)(30.85,0.085)(30.95,0.088)
(31.05,0.086)(31.15,0.082)(31.25,0.085)(31.35,0.078)(31.45,0.08)(31.55,0.076)(31.65,0.078)(31.75,0.072)(31.85,0.068)(31.95,0.06)};
\addplot[spikes] coordinates {
(20.05,-0.164)(20.15,-0.13)(20.25,-0.12)(20.35,-0.137)(20.45,-0.11)(20.55,-0.14)(20.65,-0.12)(20.75,-0.11)(20.85,-0.10)(20.95,-0.12)
(21.05,-0.11)(21.15,-0.137)(21.25,-0.10)(21.35,-0.10)(21.45,-0.09)(21.55,-0.10)(21.65,-0.085)(21.75,-0.094)(21.85,-0.09)(21.95,-0.08)
(22.05,-0.094)(22.15,-0.077)(22.25,-0.07)(22.35,-0.058)(22.45,-0.06)(22.55,-0.045)(22.65,-0.045)(22.75,-0.04)(22.85,-0.042)(22.95,-0.04)
(23.05,-0.068)(23.15,-0.03)(23.25,-0.024)(23.35,-0.024)(23.45,-0.02)(23.55,-0.068)(23.65,-0.02)(23.75,-0.018)(23.85,-0.018)(23.95,-0.016)
(24.05,-0.018)(24.15,-0.016)(24.25,-0.018)(24.35,-0.015)(24.45,-0.018)(24.55,-0.02)(24.65,-0.018)(24.75,-0.022)(24.85,-0.024)(24.95,-0.026)
(25.05,-0.029)(25.15,-0.026)(25.25,-0.03)(25.35,-0.027)(25.45,-0.029)(25.55,-0.026)(25.65,-0.03)(25.75,-0.032)(25.85,-0.028)(25.95,-0.032)
(26.05,-0.03)(26.15,-0.034)(26.25,-0.032)(26.35,-0.036)(26.45,-0.037)(26.55,-0.04)(26.65,-0.042)(26.75,-0.045)(26.85,-0.048)(26.95,-0.05)
(27.05,-0.05)(27.15,-0.055)(27.25,-0.058)(27.35,-0.065)(27.45,-0.077)(27.55,-0.07)(27.65,-0.077)(27.75,-0.08)(27.85,-0.075)(27.95,-0.082)
(28.05,-0.08)(28.15,-0.085)(28.25,-0.085)(28.35,-0.09)(28.45,-0.094)(28.55,-0.09)(28.65,-0.12)(28.75,-0.105)(28.85,-0.10)(28.95,-0.13)
(29.05,-0.11)(29.15,-0.103)(29.25,-0.10)(29.35,-0.11)(29.45,-0.10)(29.55,-0.11)(29.65,-0.10)(29.75,-0.095)(29.85,-0.10)(29.95,-0.11)
(30.05,-0.10)(30.15,-0.105)(30.25,-0.13)(30.35,-0.10)(30.45,-0.09)(30.55,-0.085)(30.65,-0.09)(30.75,-0.095)(30.85,-0.09)(30.95,-0.103)
(31.05,-0.10)(31.15,-0.08)(31.25,-0.077)(31.35,-0.075)(31.45,-0.068)(31.55,-0.065)(31.65,-0.06)(31.75,-0.055)(31.85,-0.052)(31.95,-0.05)
(20.0,-0.13)(20.1,-0.12)(20.2,-0.125)(20.3,-0.11)(20.4,-0.12)(20.5,-0.105)(20.6,-0.115)(20.7,-0.10)(20.8,-0.108)(20.9,-0.10)
(21.0,-0.10)(21.1,-0.105)(21.2,-0.095)(21.3,-0.10)(21.4,-0.088)(21.5,-0.09)(21.6,-0.092)(21.7,-0.08)(21.8,-0.085)(21.9,-0.08)
(22.0,-0.078)(22.1,-0.07)(22.2,-0.065)(22.3,-0.062)(22.4,-0.055)(22.5,-0.05)(22.6,-0.042)(22.7,-0.04)(22.8,-0.036)(22.9,-0.034)
(23.0,-0.032)(23.1,-0.026)(23.2,-0.024)(23.3,-0.022)(23.4,-0.02)(23.5,-0.022)(23.6,-0.018)(23.7,-0.017)(23.8,-0.016)(23.9,-0.015)
(24.0,-0.015)(24.1,-0.016)(24.2,-0.014)(24.3,-0.016)(24.4,-0.016)(24.5,-0.017)(24.6,-0.019)(24.7,-0.018)(24.8,-0.02)(24.9,-0.022)
(25.0,-0.024)(25.1,-0.026)(25.2,-0.024)(25.3,-0.026)(25.4,-0.024)(25.5,-0.027)(25.6,-0.025)(25.7,-0.028)(25.8,-0.03)(25.9,-0.027)
(26.0,-0.03)(26.1,-0.03)(26.2,-0.033)(26.3,-0.031)(26.4,-0.034)(26.5,-0.036)(26.6,-0.038)(26.7,-0.04)(26.8,-0.042)(26.9,-0.045)
(27.0,-0.046)(27.1,-0.05)(27.2,-0.052)(27.3,-0.058)(27.4,-0.062)(27.5,-0.066)(27.6,-0.068)(27.7,-0.07)(27.8,-0.072)(27.9,-0.076)
(28.0,-0.076)(28.1,-0.08)(28.2,-0.078)(28.3,-0.084)(28.4,-0.086)(28.5,-0.088)(28.6,-0.092)(28.7,-0.10)(28.8,-0.095)(28.9,-0.10)
(29.0,-0.105)(29.1,-0.098)(29.2,-0.10)(29.3,-0.096)(29.4,-0.104)(29.5,-0.10)(29.6,-0.095)(29.7,-0.10)(29.8,-0.092)(29.9,-0.098)
(30.0,-0.10)(30.1,-0.095)(30.2,-0.105)(30.3,-0.10)(30.4,-0.092)(30.5,-0.088)(30.6,-0.085)(30.7,-0.09)(30.8,-0.087)(30.9,-0.092)
(31.0,-0.09)(31.1,-0.088)(31.2,-0.075)(31.3,-0.072)(31.4,-0.07)(31.5,-0.064)(31.6,-0.062)(31.7,-0.058)(31.8,-0.054)(31.9,-0.05)(32.0,-0.048)};
\end{axis}

% ================= texts =================
\node[anchor=base, font=\fontsize{25}{30}\selectfont] at (404pt,1112pt) {Station 1 (in front of the bamboo row)};
\node[anchor=base, font=\fontsize{25}{30}\selectfont] at (404pt,556pt) {Station 3 (behind the bamboo row)};
\node[rotate=90, font=\bfseries\fontsize{18.5}{22}\selectfont] at (16pt,861.5pt) {Water Level (m)};
\node[rotate=90, font=\bfseries\fontsize{18.5}{22}\selectfont] at (16pt,303.5pt) {Water Level (m)};
\node[rotate=90, font=\bfseries\fontsize{18.5}{22}\selectfont] at (809pt,872.5pt) {Wave Height (m)};
\node[rotate=90, font=\bfseries\fontsize{18.5}{22}\selectfont] at (809pt,314.5pt) {Wave Height (m)};
\node[anchor=base, font=\bfseries\fontsize{19}{22}\selectfont] at (405pt,6pt) {Hour (Starting on 27 Apr. 2013)};
\node[anchor=base west, inner sep=0pt, text=black!85, font=\fontsize{19}{22}\selectfont] at (90pt,932pt) {Ultrasonic Sensor};
\node[anchor=base west, inner sep=0pt, text=black!85, font=\fontsize{19}{22}\selectfont] at (90pt,374pt) {Ultrasonic Sensor};
\node[anchor=base west, inner sep=0pt, text=lgray, font=\fontsize{19}{22}\selectfont] at (590pt,1007pt) {Tide+Wave};
\node[anchor=base west, inner sep=0pt, text=lgray, font=\fontsize{19}{22}\selectfont] at (591pt,449pt) {Tide+Wave};
\node[anchor=base west, inner sep=0pt, text=wgray, font=\fontsize{19}{22}\selectfont] at (623pt,757pt) {Wave};
\node[anchor=base west, inner sep=0pt, text=wgray, font=\fontsize{19}{22}\selectfont] at (626pt,216pt) {Wave};
\end{tikzpicture}
\end{document}
